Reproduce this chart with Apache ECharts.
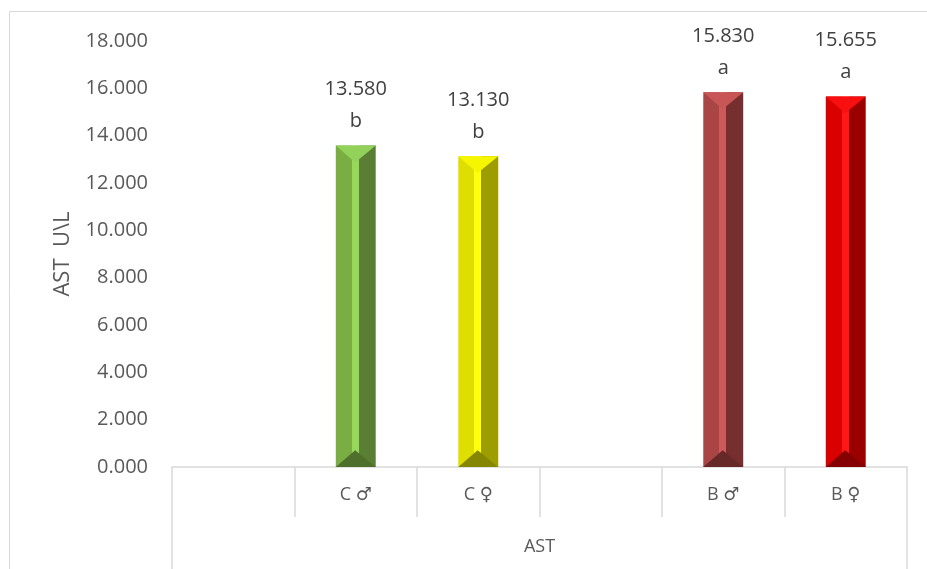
<!DOCTYPE html>
<html>
<head>
<meta charset="utf-8">
<script src="https://cdn.jsdelivr.net/npm/echarts@6/dist/echarts.min.js"></script>
<style>html,body{margin:0;padding:0;background:#fff}#c{width:927px;height:569px}</style>
</head>
<body>
<div id="c"></div>
<script>
const categories = ['', 'C \u2642', 'C \u2640', '', 'B \u2642', 'B \u2640'];
const values = [null, 13.58, 13.13, null, 15.83, 15.655];
const letters = ['', 'b', 'b', '', 'a', 'a'];
const groupLabel = ['AST'];
const yTicks = [0, 2, 4, 6, 8, 10, 12, 14, 16, 18];
const yName = 'AST  U\\L';

// palette per bar: [leftFace, stripe, rightFace, topCap, bottomCap]
const palettes = [
  null,
  ['#7aad42', '#96d85a', '#5a7e33', '#92d25a', '#4f6f2d'],
  ['#dede00', '#ffff10', '#9d9d00', '#f6f600', '#868600'],
  null,
  ['#a94545', '#cd5a5a', '#772e2e', '#c95656', '#672828'],
  ['#db0000', '#ff1818', '#9a0000', '#f81010', '#850000']
];

const FONT = "'Open Sans', 'DejaVu Sans', sans-serif";

function faceGradient(p) {
  return {
    type: 'linear', x: 0, y: 0, x2: 1, y2: 0,
    colorStops: [
      {offset: 0, color: p[0]}, {offset: 0.40, color: p[0]},
      {offset: 0.40, color: p[1]}, {offset: 0.57, color: p[1]},
      {offset: 0.57, color: p[2]}, {offset: 1, color: p[2]}
    ]
  };
}

const barData = values.map((v, i) => v == null ? null : {
  value: v,
  itemStyle: {color: faceGradient(palettes[i])}
});
const capData = [];
values.forEach((v, i) => { if (v != null) capData.push([i, v]); });

const chart = echarts.init(document.getElementById('c'), null, {renderer: 'canvas'});
chart.setOption({
  animation: false,
  backgroundColor: '#ffffff',
  graphic: [{
    type: 'rect', silent: true, z: -10,
    shape: {x: 9.5, y: 11.5, width: 1200, height: 1200},
    style: {fill: 'none', stroke: '#d9d9d9', lineWidth: 1}
  }],
  grid: {left: 172, right: 20, top: 41, bottom: 102, containLabel: false},
  xAxis: [{
    type: 'category', data: categories, position: 'bottom',
    axisLine: {show: true, lineStyle: {color: '#d9d9d9', width: 1.5}},
    axisTick: {show: true, interval: 0, length: 50, lineStyle: {color: '#d9d9d9', width: 1.5}},
    axisLabel: {interval: 0, margin: 19, fontSize: 18, color: '#595959', fontFamily: FONT},
    splitLine: {show: false}
  }, {
    type: 'category', data: groupLabel, position: 'bottom', offset: 0,
    axisLine: {show: false},
    axisTick: {show: true, length: 104, lineStyle: {color: '#d9d9d9', width: 1.5}},
    axisLabel: {margin: 71, fontSize: 18, color: '#595959', fontFamily: FONT},
    splitLine: {show: false}
  }],
  yAxis: {
    type: 'value', min: 0, max: 18, interval: 2,
    name: yName, nameLocation: 'middle', nameGap: 98, nameRotate: 90,
    nameTextStyle: {fontSize: 22, color: '#595959', fontFamily: FONT},
    axisLine: {show: false}, axisTick: {show: false}, splitLine: {show: false},
    axisLabel: {
      margin: 24, fontSize: 20, color: '#595959', fontFamily: FONT,
      formatter: v => yTicks.indexOf(v) >= 0 ? v.toFixed(3) : ''
    }
  },
  series: [{
    type: 'bar', xAxisIndex: 0, yAxisIndex: 0,
    data: barData, barWidth: '32.6%',
    label: {
      show: true, position: 'top', distance: 8,
      fontSize: 20, lineHeight: 32, color: '#404040', fontFamily: FONT, align: 'center',
      formatter: p => p.value.toFixed(3) + '\n' + letters[p.dataIndex]
    },
    z: 2
  }, {
    type: 'custom', xAxisIndex: 0, yAxisIndex: 0, z: 3, silent: true,
    encode: {x: 0, y: 1},
    data: capData,
    renderItem: function (params, api) {
      const idx = api.value(0);
      const v = api.value(1);
      const p = palettes[idx];
      const t = api.coord([idx, v]);
      const b = api.coord([idx, 0]);
      const w = api.size([1, 0])[0] * 0.326;
      const x0 = t[0] - w / 2, x1 = t[0] + w / 2;
      const d = w * 0.42;
      const ax = x0 + w * 0.485;
      return {
        type: 'group',
        children: [{
          type: 'polygon',
          shape: {points: [[x0, t[1]], [x1, t[1]], [ax, t[1] + d]]},
          style: {fill: p[3]}
        }, {
          type: 'polygon',
          shape: {points: [[x0, b[1]], [x1, b[1]], [ax, b[1] - d]]},
          style: {fill: p[4]}
        }]
      };
    }
  }]
});
</script>
</body>
</html>
